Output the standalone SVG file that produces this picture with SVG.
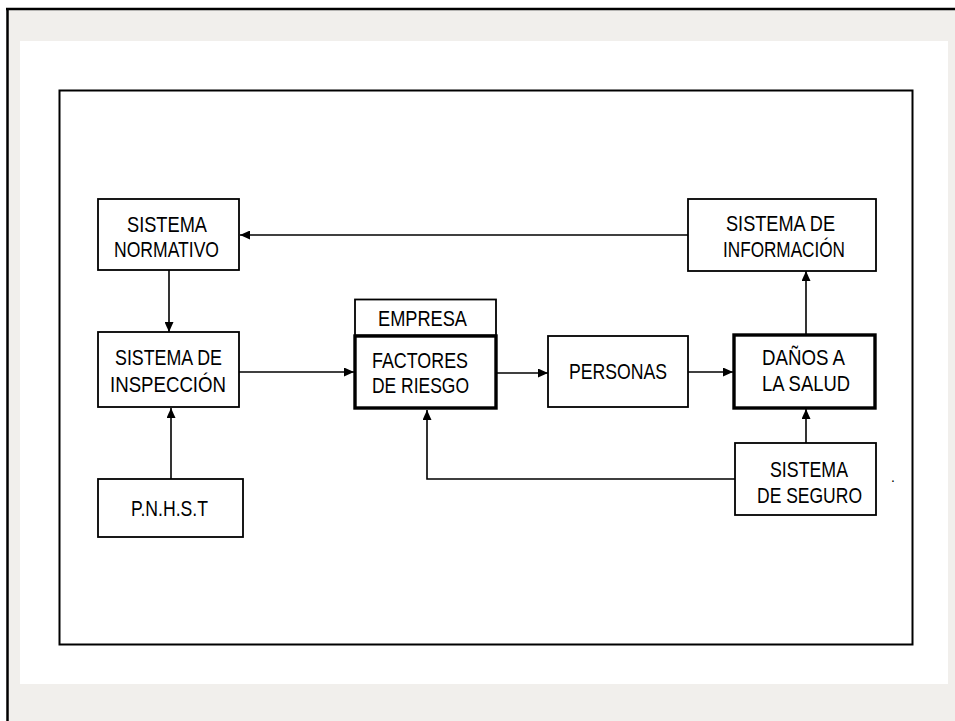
<svg xmlns="http://www.w3.org/2000/svg" width="955" height="721" viewBox="0 0 955 721">
  <defs>
    <marker id="arrow" markerUnits="userSpaceOnUse" markerWidth="10" markerHeight="9" refX="10" refY="4.5" orient="auto">
      <path d="M0,0 L10,4.5 L0,9 z" fill="#000"/>
    </marker>
    <style>
      .box { fill: #fff; stroke: #000; stroke-width: 1.8; }
      .thick { fill: #fff; stroke: #000; stroke-width: 3.4; }
      .lbl { font-family: "Liberation Sans", Arial, sans-serif; font-size: 22px; fill: #000; }
      .conn { fill: none; stroke: #000; stroke-width: 1.6; marker-end: url(#arrow); }
    </style>
  </defs>

  <!-- page background and frames -->
  <rect x="0" y="0" width="955" height="721" fill="#fff"/>
  <rect x="7" y="9" width="948" height="712" fill="#f1efec"/>
  <line x1="6" y1="9" x2="955" y2="9" stroke="#000" stroke-width="2.5"/>
  <line x1="7.5" y1="8" x2="7.5" y2="721" stroke="#000" stroke-width="2.5"/>
  <rect x="20" y="41" width="928" height="643" fill="#fff"/>
  <rect x="59.5" y="90.5" width="853" height="554" fill="none" stroke="#000" stroke-width="2"/>

  <g id="connectors">
    <line class="conn" x1="688" y1="235" x2="240" y2="235"/>
    <line class="conn" x1="169" y1="270" x2="169" y2="332"/>
    <line class="conn" x1="171" y1="479" x2="171" y2="408"/>
    <line class="conn" x1="239" y1="372" x2="354" y2="372"/>
    <line class="conn" x1="496" y1="373" x2="548" y2="373"/>
    <line class="conn" x1="688" y1="372" x2="733" y2="372"/>
    <line class="conn" x1="806" y1="334" x2="806" y2="271"/>
    <line class="conn" x1="806" y1="443" x2="806" y2="409"/>
    <polyline class="conn" points="735,479 427,479 427,410"/>
  </g>

  <g id="sistema-normativo">
    <rect class="box" x="98" y="199" width="141" height="71"/>
    <text class="lbl" x="127" y="232" textLength="80" lengthAdjust="spacingAndGlyphs">SISTEMA</text>
    <text class="lbl" x="114" y="257" textLength="105" lengthAdjust="spacingAndGlyphs">NORMATIVO</text>
  </g>

  <g id="sistema-inspeccion">
    <rect class="box" x="98" y="332" width="141" height="75"/>
    <text class="lbl" x="115" y="365" textLength="107" lengthAdjust="spacingAndGlyphs">SISTEMA DE</text>
    <text class="lbl" x="110" y="392" textLength="116" lengthAdjust="spacingAndGlyphs">INSPECCIÓN</text>
  </g>

  <g id="pnhst">
    <rect class="box" x="98" y="479" width="145" height="58"/>
    <text class="lbl" x="131" y="516" textLength="77" lengthAdjust="spacingAndGlyphs">P.N.H.S.T</text>
  </g>

  <g id="empresa">
    <rect class="box" x="355" y="299.5" width="141" height="36"/>
    <text class="lbl" x="378" y="326" textLength="89" lengthAdjust="spacingAndGlyphs">EMPRESA</text>
  </g>

  <g id="factores-riesgo">
    <rect class="thick" x="355" y="336" width="141" height="72"/>
    <text class="lbl" x="372" y="368" textLength="96" lengthAdjust="spacingAndGlyphs">FACTORES</text>
    <text class="lbl" x="372" y="393" textLength="97" lengthAdjust="spacingAndGlyphs">DE RIESGO</text>
  </g>

  <g id="personas">
    <rect class="box" x="548" y="336" width="140" height="71"/>
    <text class="lbl" x="569" y="379" textLength="98" lengthAdjust="spacingAndGlyphs">PERSONAS</text>
  </g>

  <g id="danos-salud">
    <rect class="thick" x="734" y="335" width="141" height="73"/>
    <text class="lbl" x="762" y="365" textLength="83" lengthAdjust="spacingAndGlyphs">DAÑOS A</text>
    <text class="lbl" x="762" y="391" textLength="88" lengthAdjust="spacingAndGlyphs">LA SALUD</text>
  </g>

  <g id="sistema-informacion">
    <rect class="box" x="688" y="199" width="188" height="72"/>
    <text class="lbl" x="726" y="231" textLength="109" lengthAdjust="spacingAndGlyphs">SISTEMA DE</text>
    <text class="lbl" x="723" y="257" textLength="122" lengthAdjust="spacingAndGlyphs">INFORMACIÓN</text>
  </g>

  <g id="sistema-seguro">
    <rect class="box" x="735" y="443" width="141" height="72"/>
    <text class="lbl" x="770" y="477" textLength="78" lengthAdjust="spacingAndGlyphs">SISTEMA</text>
    <text class="lbl" x="757" y="503" textLength="105" lengthAdjust="spacingAndGlyphs">DE SEGURO</text>
  </g>

  <text class="lbl" x="891" y="482" style="font-size:14px">.</text>
</svg>
